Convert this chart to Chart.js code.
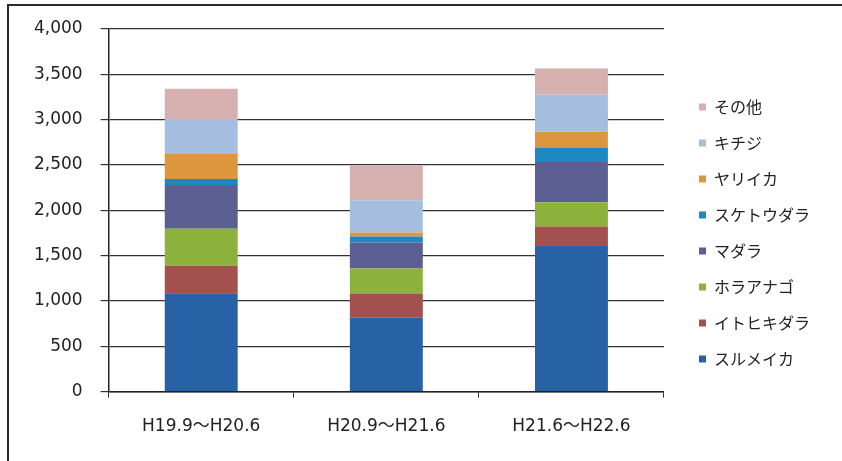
<!DOCTYPE html>
<html lang="ja">
<head>
<meta charset="utf-8">
<title>魚種別漁獲量</title>
<script src="https://cdn.jsdelivr.net/npm/chart.js@4.4.1/dist/chart.umd.min.js"></script>
<style>
  html, body { margin: 0; padding: 0; background: #fff; }
  #wrap { position: relative; width: 842px; height: 461px; overflow: hidden; }
  #frame {
    position: absolute; left: 7px; top: 4px; right: -4px; bottom: -4px;
    border-top: 2px solid #2a2a2a; border-left: 2px solid #2a2a2a;
    pointer-events: none;
  }
  canvas { position: absolute; left: 0; top: 0; }
</style>
</head>
<body>
<div id="wrap">
  <canvas id="c" width="842" height="461"></canvas>
  <div id="frame"></div>
</div>
<script>
// 期間
const categories = ['H19.9～H20.6', 'H20.9～H21.6', 'H21.6～H22.6'];

// 魚種別の数量（下から積み上げ）
const surumeika   = [1085, 815, 1607];
const itohikidara = [304, 266, 215];
const horaanago   = [407, 278, 267];
const madara      = [482, 285, 444];
const suketoudara = [66, 67, 160];
const yariika     = [278, 45, 174];
const kichiji     = [385, 355, 407];
const sonota      = [334, 385, 289];

// 縦軸の目盛
const yTicks = [0, 500, 1000, 1500, 2000, 2500, 3000, 3500, 4000];

const series = [
  { label: 'スルメイカ',   data: surumeika,   color: '#2862a6' },
  { label: 'イトヒキダラ', data: itohikidara, color: '#a3514f' },
  { label: 'ホラアナゴ',   data: horaanago,   color: '#8cb23c' },
  { label: 'マダラ',       data: madara,      color: '#5b5f92' },
  { label: 'スケトウダラ', data: suketoudara, color: '#1e88c0' },
  { label: 'ヤリイカ',     data: yariika,     color: '#de963e' },
  { label: 'キチジ',       data: kichiji,     color: '#a5bee0' },
  { label: 'その他',       data: sonota,      color: '#d6afaf' }
];

const LATIN = '"DejaVu Sans", "Noto Sans CJK JP", sans-serif';
const CJK = '"Noto Sans CJK JP", "DejaVu Sans", sans-serif';

// 凡例の位置を微調整
const legendNudge = {
  id: 'legendNudge',
  afterLayout(chart) {
    const lg = chart.legend;
    if (lg) {
      lg.left += 15; lg.right += 15;
      lg.top -= 69; lg.bottom -= 69;
    }
  }
};

new Chart(document.getElementById('c'), {
  type: 'bar',
  data: {
    labels: categories,
    datasets: series.map(s => ({
      label: s.label,
      data: s.data,
      backgroundColor: s.color,
      borderWidth: 0,
      categoryPercentage: 1.0,
      barPercentage: 0.394
    }))
  },
  options: {
    responsive: false,
    animation: false,
    layout: { padding: { left: 16, right: 37, top: 29, bottom: 5 } },
    plugins: {
      legend: {
        position: 'right',
        align: 'end',
        reverse: true,
        labels: {
          boxWidth: 7,
          boxHeight: 7,
          padding: 20,
          color: '#222',
          font: { family: CJK, size: 16 }
        }
      },
      tooltip: { enabled: false }
    },
    scales: {
      x: {
        stacked: true,
        grid: {
          offset: true,
          drawOnChartArea: false,
          drawTicks: true,
          tickLength: 6,
          color: '#333',
          lineWidth: 1
        },
        border: { display: true, color: '#222', width: 1.5 },
        ticks: {
          padding: 19,
          color: '#222',
          maxRotation: 0,
          font: { family: LATIN, size: 17 }
        }
      },
      y: {
        stacked: true,
        min: 0,
        max: 4000,
        afterBuildTicks(scale) {
          scale.ticks = yTicks.map(v => ({ value: v }));
        },
        grid: {
          color: '#333',
          lineWidth: 1.2,
          tickLength: 8
        },
        border: { display: true, color: '#222', width: 1.5 },
        ticks: {
          padding: 18,
          color: '#222',
          font: { family: LATIN, size: 17 },
          callback: v => v.toLocaleString('en-US')
        }
      }
    }
  },
  plugins: [legendNudge]
});
</script>
</body>
</html>
